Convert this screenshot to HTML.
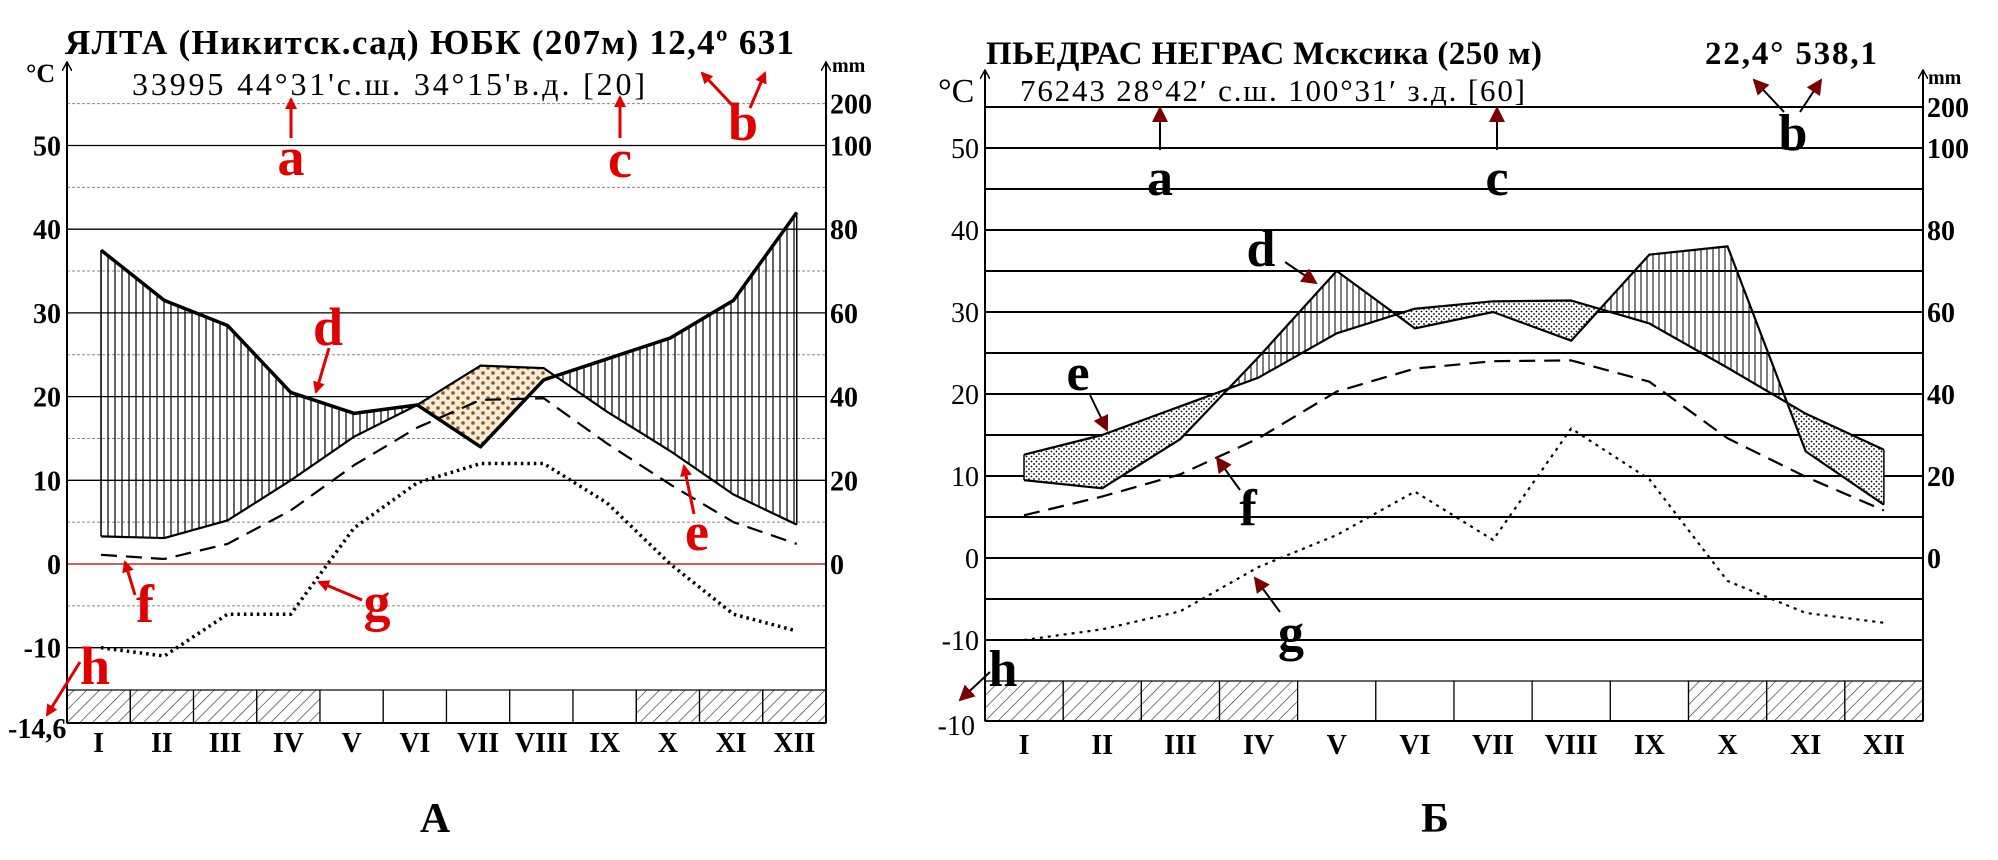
<!DOCTYPE html>
<html><head><meta charset="utf-8">
<style>
html,body{margin:0;padding:0;background:#fff;}
svg{display:block;font-family:"Liberation Serif","DejaVu Serif",serif;}
</style></head>
<body>
<svg id="root" width="1998" height="860" viewBox="0 0 1998 860" xmlns="http://www.w3.org/2000/svg">
<defs>
  <pattern id="vhatchA" width="7" height="10" patternUnits="userSpaceOnUse"><line x1="3" y1="0" x2="3" y2="10" stroke="#000" stroke-width="1.2"/></pattern>
  <pattern id="vhatchB" width="6" height="10" patternUnits="userSpaceOnUse"><line x1="3" y1="0" x2="3" y2="10" stroke="#000" stroke-width="1"/></pattern>
  <pattern id="dotsA" width="10" height="10" patternUnits="userSpaceOnUse"><rect width="10" height="10" fill="#f7ead8"/><circle cx="3" cy="3" r="1.8" fill="#8a5a1c"/><circle cx="8" cy="8" r="1.8" fill="#8a5a1c"/></pattern>
  <pattern id="dotsB" width="5" height="5" patternUnits="userSpaceOnUse"><rect width="5" height="5" fill="#fff"/><circle cx="1.5" cy="1.5" r="0.9" fill="#000"/><circle cx="4" cy="4" r="0.9" fill="#000"/></pattern>
  <pattern id="diag" width="9" height="9" patternUnits="userSpaceOnUse" patternTransform="rotate(45)"><line x1="0" y1="0" x2="0" y2="9" stroke="#333" stroke-width="1.3"/></pattern>
  <marker id="arrR" markerWidth="12" markerHeight="12" refX="10" refY="6" orient="auto" markerUnits="userSpaceOnUse"><path d="M0,0 L12,6 L0,12 Z" fill="#e00000"/></marker>
  <marker id="arrD" markerWidth="16" markerHeight="16" refX="14" refY="8" orient="auto" markerUnits="userSpaceOnUse"><path d="M0,0 L16,8 L0,16 Z" fill="#7a0000"/></marker>
  <marker id="arrAxis" markerWidth="10" markerHeight="10" refX="9" refY="5" orient="auto" markerUnits="userSpaceOnUse"><path d="M0,0 L9,5 L0,10" fill="none" stroke="#000" stroke-width="1.5"/></marker>
</defs>
<g id="chartA"></g>
<g id="chartB"></g>
<text x="435" y="832" font-size="42" font-weight="bold" text-anchor="middle">А</text>
<text x="1435" y="832" font-size="42" font-weight="bold" text-anchor="middle">Б</text>
</svg>
<script>
// ---- Chart A (Yalta) data ----
const months = ["I","II","III","IV","V","VI","VII","VIII","IX","X","XI","XII"];
const tempA = [3.3, 3.1, 5.2, 10, 15.2, 19, 23.7, 23.4, 18.2, 13.5, 8.3, 4.7];
const precipA = [75, 63, 57, 41, 36, 38, 28, 44, 49, 54, 63, 84];
const minTempA = [1.1, 0.6, 2.4, 6.4, 11.8, 16.3, 19.6, 19.8, 14.4, 9.5, 5, 2.4];
const absMinA = [-10, -11, -6, -6, 4.3, 9.7, 12, 12, 7.3, 0, -6, -8];
const frostA = [1,1,1,1,0,0,0,0,0,1,1,1];
const leftTicksA = [50,40,30,20,10,0,-10];
const rightTicksA = ["200","100","80","60","40","20","0"];
// ---- Chart B (Piedras Negras) data ----
const tempB = [12.6, 15, 18.5, 22, 27.4, 30.4, 31.3, 31.4, 28.6, 23.2, 17.6, 13.2];
const precipB = [19, 17, 29, 49, 70, 56, 60, 53, 74, 76, 26, 13];
const minTempB = [5.2, 7.5, 10.2, 14.6, 20.3, 23.1, 24, 24.1, 21.5, 14.6, 9.9, 5.8];
const absMinB = [-10, -8.7, -6.5, -1.1, 2.8, 8.1, 2.2, 15.8, 9.6, -2.8, -6.7, -7.9];
const frostB = [1,1,1,1,0,0,0,0,0,1,1,1];
const leftTicksB = [50,40,30,20,10,0,-10];
const rightTicksB = ["200","100","80","60","40","20","0"];

const NS="http://www.w3.org/2000/svg";
function mk(parent,tag,attrs,text){const e=document.createElementNS(NS,tag);for(const k in attrs)e.setAttribute(k,attrs[k]);if(text!==undefined)e.textContent=text;parent.appendChild(e);return e;}

function draw(g,c){
  const X=i=>c.x0+c.step*i+c.off;
  const Y=t=>c.y0-t*c.k;
  const Pm=p=>p/2;
  for(let t=-10;t<=55;t+=5){
    const major=(t%10===0);
    const l=mk(g,'line',{x1:c.x0,x2:c.x1,y1:Y(t),y2:Y(t),stroke:t===0?c.zeroColor:(c.allSolid||major?'#000':'#888'),'stroke-width':c.allSolid?2:(major?1.3:1),'stroke-dasharray':(c.allSolid||major)?'none':'3,2'});
    
    
  }
  const id=c.id;
  const polyP=months.map((m,i)=>X(i)+','+Y(Pm(c.precip[i]))).join(' ');
  const polyT=months.map((m,i)=>X(i)+','+Y(c.temp[i])).join(' ');
  const defs=mk(g,'defs',{});
  const cpBelowP=mk(defs,'clipPath',{id:id+'bp'});mk(cpBelowP,'polygon',{points:polyP+' '+X(11)+',900 '+X(0)+',900'});
  const cpAboveT=mk(defs,'clipPath',{id:id+'at'});mk(cpAboveT,'polygon',{points:polyT+' '+X(11)+',0 '+X(0)+',0'});
  const cpBelowT=mk(defs,'clipPath',{id:id+'bt'});mk(cpBelowT,'polygon',{points:polyT+' '+X(11)+',900 '+X(0)+',900'});
  const cpAboveP=mk(defs,'clipPath',{id:id+'ap'});mk(cpAboveP,'polygon',{points:polyP+' '+X(11)+',0 '+X(0)+',0'});
  const g1=mk(g,'g',{'clip-path':'url(#'+id+'bp)'});
  const humid=mk(g1,'rect',{x:0,y:0,width:1998,height:860,fill:'url(#'+c.hatch+')','clip-path':'url(#'+id+'at)'});
  
  
  const g2=mk(g,'g',{'clip-path':'url(#'+id+'bt)'});
  const arid=mk(g2,'rect',{x:0,y:0,width:1998,height:860,fill:'url(#'+c.dots+')','clip-path':'url(#'+id+'ap)'});
  
  
  mk(g,'line',{x1:X(0),x2:X(0),y1:Y(c.temp[0]),y2:Y(Pm(c.precip[0])),stroke:'#000','stroke-width':1.5});
  mk(g,'line',{x1:X(11),x2:X(11),y1:Y(c.temp[11]),y2:Y(Pm(c.precip[11])),stroke:'#000','stroke-width':1.5});
  const lines=[[c.absMin,'absolute-min-line',c.dotW,c.dotDash],[c.minT,'min-temp-line',2.2,'16,9'],[c.temp,'temperature-line',2.2,'none'],[c.precip.map(Pm),'precipitation-line',c.pW,'none']];
  lines.forEach(([arr,name,w,dash])=>{
    const pl=mk(g,'polyline',{points:arr.map((v,i)=>X(i)+','+Y(v)).join(' '),fill:'none',stroke:'#000','stroke-width':w,'stroke-dasharray':dash,'stroke-linejoin':'round'});
    
    
  });
  const cw=(c.x1-c.x0)/12;
  months.forEach((m,i)=>{
    const r=mk(g,'rect',{x:c.x0+cw*i,y:c.barY,width:cw,height:c.barH,fill:c.frost[i]?'url(#diag)':'#fff',stroke:'#000','stroke-width':1.2});
    
    
    const t=mk(g,'text',{x:c.x0+cw*i+cw/2,y:c.monthY,'font-size':28,'font-weight':'bold','text-anchor':'middle'},m);
    
    
  });
  mk(g,'line',{x1:c.x0,x2:c.x0,y1:c.barY+c.barH,y2:c.axTop,stroke:'#000','stroke-width':2,'marker-end':'url(#arrAxis)'});
  mk(g,'line',{x1:c.x1,x2:c.x1,y1:c.barY+c.barH,y2:c.axTop,stroke:'#000','stroke-width':2,'marker-end':'url(#arrAxis)'});
  mk(g,'line',{x1:c.x0,x2:c.x1,y1:c.barY+c.barH,y2:c.barY+c.barH,stroke:'#000','stroke-width':2});
  c.leftTicks.forEach(t=>{
    const e=mk(g,'text',{x:c.x0-6,y:Y(t)+10,'font-size':28,'font-weight':c.lw,'text-anchor':'end'},String(t));
    
    
  });
  const rpos=[55,50,40,30,20,10,0];
  c.rightTicks.forEach((s,i)=>{
    const e=mk(g,'text',{x:c.x1+4,y:Y(rpos[i])+10,'font-size':28,'font-weight':'bold'},s);
    
    
  });
}

const A=document.getElementById('chartA');
draw(A,{id:'A',x0:67,x1:826,step:63.25,off:34,y0:564,k:8.37,zeroColor:'#b00000',allSolid:false,temp:tempA,precip:precipA,minT:minTempA,absMin:absMinA,frost:frostA,hatch:'vhatchA',dots:'dotsA',barY:690,barH:33,monthY:752,axTop:62,leftTicks:leftTicksA,rightTicks:rightTicksA,lw:'bold',pW:3.5,dotW:3.5,dotDash:'2.5,4'});
const B=document.getElementById('chartB');
draw(B,{id:'B',x0:985,x1:1923,step:78.17,off:39,y0:558,k:8.2,zeroColor:'#000',allSolid:true,temp:tempB,precip:precipB,minT:minTempB,absMin:absMinB,frost:frostB,hatch:'vhatchB',dots:'dotsB',barY:681,barH:40,monthY:754,axTop:70,leftTicks:leftTicksB,rightTicks:rightTicksB,lw:'normal',pW:2.2,dotW:2.2,dotDash:'3,5'});

function txt(g,x,y,size,weight,fill,s,name,anchor,len){const a={x:x,y:y,'font-size':size,'font-weight':weight,fill:fill,'text-anchor':anchor||'start'};if(len){a.textLength=len;a.lengthAdjust='spacing';}const e=mk(g,'text',a,s);return e;}
function arrow(g,x1,y1,x2,y2,col,mkr,w){const l=mk(g,'line',{x1:x1,y1:y1,x2:x2,y2:y2,stroke:col,'stroke-width':w,'marker-end':'url(#'+mkr+')'});}

// Chart A texts
txt(A,65,54,35,'bold','#000','ЯЛТА (Никитск.сад) ЮБК (207м)  12,4º 631','chart-title','start',729);
txt(A,132,95,32,'normal','#000','33995  44°31\'с.ш. 34°15\'в.д.   [20]','station-info','start',513);
txt(A,26,82,26,'bold','#000','°C','y-axis-title-celsius');
txt(A,832,72,20,'bold','#000','mm','y-axis-title-mm');
txt(A,8,738,28,'bold','#000','-14,6','abs-min-value');
const R='#e00000';
[['a',291,175],['c',620,177],['b',743,140],['d',328,345],['e',697,550],['f',145,622],['g',377,620],['h',95,684]].forEach(([s,x,y])=>txt(A,x,y,54,'bold',R,s,'annotation-'+s,'middle'));
arrow(A,291,138,291,99,R,'arrR',3);
arrow(A,620,138,620,97,R,'arrR',3);
arrow(A,735,108,702,73,R,'arrR',3);
arrow(A,750,108,765,73,R,'arrR',3);
arrow(A,329,348,316,392,R,'arrR',3);
arrow(A,694,514,684,466,R,'arrR',3);
arrow(A,135,595,125,562,R,'arrR',3);
arrow(A,362,600,319,582,R,'arrR',3);
arrow(A,80,662,47,715,R,'arrR',3);

// Chart B texts
txt(B,986,64,33,'bold','#000','ПЬЕДРАС НЕГРАС Мсксика (250 м)','chart-title','start',556);
txt(B,1705,64,33,'bold','#000','22,4°  538,1','annual-values','start',172);
txt(B,1020,101,31,'normal','#000','76243   28°42′ с.ш. 100°31′ з.д.      [60]','station-info','start',505);
txt(B,938,102,34,'normal','#000','°C','y-axis-title-celsius');
txt(B,1928,84,20,'bold','#000','mm','y-axis-title-mm');
txt(B,975,735,28,'normal','#000','-10','abs-min-value','end');
[['a',1160,195],['c',1497,195],['b',1793,150],['d',1261,266],['e',1078,390],['f',1248,525],['g',1291,650],['h',1003,686]].forEach(([s,x,y])=>txt(B,x,y,52,'bold','#000',s,'annotation-'+s,'middle'));
arrow(B,1160,150,1160,108,'#000','arrD',2);
arrow(B,1497,150,1497,108,'#000','arrD',2);
arrow(B,1784,112,1754,80,'#000','arrD',2);
arrow(B,1800,112,1821,80,'#000','arrD',2);
arrow(B,1285,262,1316,283,'#000','arrD',2);
arrow(B,1090,395,1107,430,'#000','arrD',2);
arrow(B,1240,490,1217,458,'#000','arrD',2);
arrow(B,1280,612,1255,578,'#000','arrD',2);
arrow(B,990,672,960,700,'#000','arrD',2);
</script>
</body></html>
